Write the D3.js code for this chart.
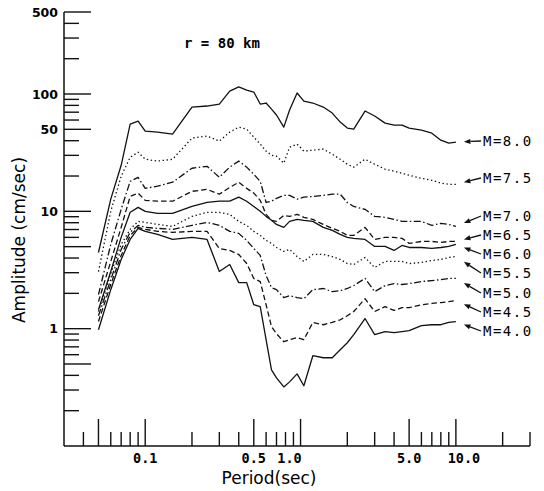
<!DOCTYPE html>
<meta charset="utf-8">
<title>Amplitude spectra, r = 80 km</title>
<style>
body { margin: 0; background: #fff; }
svg { display: block; background: #fff; }
.curve { fill: none; stroke: #111; stroke-width: 1.3; stroke-linejoin: round; }
.frame line { stroke: #111; stroke-width: 1.5; }
.tick line { stroke: #111; stroke-width: 1.4; }
</style>
<svg width="544" height="491"></svg>
<script src="https://cdn.jsdelivr.net/npm/d3@7/dist/d3.min.js"></script>
<script>

// periods (sec) every curve was read at
var periods = [0.05, 0.06, 0.07, 0.08, 0.09, 0.1, 0.12, 0.15, 0.2, 0.25,
               0.3, 0.35, 0.4, 0.45, 0.5, 0.55, 0.6, 0.65, 0.7, 0.78,
               0.85, 0.95, 1.05, 1.2, 1.4, 1.6, 1.8, 2.0, 2.2, 2.6,
               3.0, 3.5, 4.0, 4.5, 5.0, 6.0, 7.0, 8.0, 9.0, 10.0];

// amplitude (cm/sec), one list per magnitude
var ampM80 = [4.46, 12.7, 24.7, 55.4, 58.8, 48.3, 47.3, 45.5, 77.4, 79.0,
              82.1, 106, 115, 108, 104, 82.1, 83.8, 74.4, 66.2, 52.2,
              73.0, 102, 87.1, 83.8, 77.4, 68.8, 57.6, 51.2, 50.2, 71.6,
              64.9, 56.5, 54.3, 54.3, 51.2, 49.2, 46.4, 40.4, 38.1, 38.9];
var ampM75 = [3.07, 10.0, 19.9, 28.9, 31.9, 27.8, 26.8, 27.8, 42.1, 43.8,
              39.7, 47.3, 52.2, 50.2, 42.9, 37.4, 32.6, 30.1, 29.5, 25.7,
              35.2, 37.4, 32.6, 33.2, 33.9, 30.7, 27.8, 25.2, 23.8, 27.8,
              25.2, 22.9, 22.0, 21.1, 20.3, 19.1, 18.4, 17.4, 17.0, 17.0];
var ampM70 = [1.95, 5.22, 10.4, 18.0, 19.5, 15.7, 16.4, 17.7, 23.3, 24.2,
              19.5, 23.8, 26.8, 23.8, 20.7, 18.0, 11.9, 12.2, 12.9, 13.7,
              13.7, 12.7, 13.2, 13.4, 13.7, 14.0, 14.0, 11.9, 11.0, 10.4,
              9.06, 8.89, 8.54, 8.21, 8.21, 8.21, 7.59, 7.90, 7.74, 7.44];
var ampM65 = [1.70, 3.74, 7.30, 13.4, 14.3, 12.4, 12.2, 12.2, 14.8, 15.4,
              14.0, 16.0, 17.7, 15.7, 14.3, 12.4, 9.43, 8.38, 8.21, 9.24,
              9.06, 9.43, 8.89, 8.54, 7.74, 7.16, 6.75, 6.24, 6.24, 7.30,
              5.76, 6.00, 6.00, 5.88, 5.33, 5.54, 5.54, 5.43, 5.54, 5.54];
var ampM60 = [1.45, 3.07, 6.00, 9.81, 10.8, 10.0, 9.61, 9.61, 11.0, 11.9,
              12.2, 12.2, 13.2, 12.2, 11.0, 10.0, 9.06, 8.38, 7.74, 7.30,
              8.21, 8.54, 8.38, 8.21, 7.30, 6.88, 6.36, 6.00, 5.88, 5.76,
              5.02, 5.02, 4.64, 5.12, 4.92, 4.92, 4.83, 4.92, 5.02, 5.22];
var ampM55 = [1.40, 2.95, 5.22, 7.02, 8.21, 8.05, 7.74, 7.44, 9.06, 9.81,
              9.81, 9.43, 8.21, 7.59, 6.75, 6.24, 5.65, 5.33, 4.92, 4.55,
              4.74, 4.12, 3.74, 4.29, 4.29, 4.12, 3.89, 3.59, 3.52, 4.04,
              3.32, 3.74, 3.74, 3.74, 3.59, 3.67, 3.81, 3.89, 4.04, 4.12];
var ampM50 = [1.29, 2.62, 4.74, 6.62, 7.59, 7.30, 7.16, 7.02, 7.59, 8.05,
              7.59, 6.75, 6.49, 5.65, 4.83, 4.21, 2.84, 2.24, 2.15, 1.84,
              1.91, 1.84, 1.80, 2.15, 2.20, 2.07, 2.11, 2.20, 2.33, 2.68,
              2.07, 2.33, 2.42, 2.38, 2.42, 2.52, 2.57, 2.62, 2.68, 2.68];
var ampM45 = [1.15, 2.38, 4.21, 6.24, 7.30, 7.02, 6.75, 6.62, 6.75, 6.75,
              4.83, 4.64, 4.29, 3.59, 2.68, 2.52, 1.60, 1.04, 0.906, 0.774,
              0.805, 0.838, 0.805, 1.13, 1.08, 1.13, 1.19, 1.29, 1.40, 1.80,
              1.40, 1.54, 1.43, 1.51, 1.51, 1.60, 1.64, 1.67, 1.70, 1.74];
var ampM40 = [0.98, 2.15, 3.89, 5.76, 7.16, 6.75, 6.36, 5.76, 6.00, 5.76,
              3.07, 3.52, 2.47, 2.47, 1.60, 1.54, 0.805, 0.446, 0.381, 0.319,
              0.352, 0.412, 0.326, 0.588, 0.565, 0.565, 0.661, 0.759, 0.889, 1.22,
              0.889, 0.943, 0.924, 0.943, 0.961, 1.06, 1.08, 1.08, 1.13, 1.15];

var magnitudes = ["8.0", "7.5", "7.0", "6.5", "6.0", "5.5", "5.0", "4.5", "4.0"];
var series = [ampM80, ampM75, ampM70, ampM65, ampM60, ampM55, ampM50, ampM45, ampM40];

// labelled ticks
var xTickValues = [0.1, 0.5, 1, 5, 10];
var xTickLabels = ["0.1", "0.5", "1.0", "5.0", "10.0"];
var yTickValues = [1, 10, 50, 100, 500];
var yTickLabels = ["1", "10", "50", "100", "500"];

var svg = d3.select("svg");

var x = d3.scaleLog().domain([0.03, 30]).range([64, 530]);
var y = d3.scaleLog().domain([0.1, 500]).range([446, 12]);

//long ticks at 1 and 5 of each decade
function isMajor(v) {
  var e = Math.pow(10, Math.floor(Math.log10(v) + 1e-9));
  var lead = Math.round(v / e);
  return lead == 1 || lead == 5;
}

// frame
var frame = svg.append("g").attr("class", "frame");
frame.append("line")
  .attr("x1", x.range()[0]).attr("x2", x.range()[0])
  .attr("y1", y.range()[0]).attr("y2", y.range()[1]);
frame.append("line")
  .attr("x1", x.range()[0]).attr("x2", x.range()[1])
  .attr("y1", y.range()[0]).attr("y2", y.range()[0]);

// x ticks point up from the bottom line
svg.append("g").attr("class", "tick")
  .selectAll("line")
  .data(x.ticks().filter(function(v) { return v > 0.031; }))
  .enter().append("line")
    .attr("x1", function(d) { return x(d); })
    .attr("x2", function(d) { return x(d); })
    .attr("y1", y.range()[0])
    .attr("y2", function(d) { return y.range()[0] - (isMajor(d) ? 27 : 14); });

// y ticks point right from the left line
svg.append("g").attr("class", "tick")
  .selectAll("line")
  .data(y.ticks().filter(function(v) { return v > 0.101; }))
  .enter().append("line")
    .attr("y1", function(d) { return y(d); })
    .attr("y2", function(d) { return y(d); })
    .attr("x1", x.range()[0])
    .attr("x2", function(d) { return x.range()[0] + (isMajor(d) ? 27 : 15); });

// tick labels
var xLabelShift = {"1.0": -11, "10.0": 8};
svg.append("g")
  .selectAll("text")
  .data(xTickValues)
  .enter().append("text")
    .attr("x", function(d, i) { return x(d) + (xLabelShift[xTickLabels[i]] || 0); })
    .attr("y", 463)
    .attr("text-anchor", "middle")
    .attr("font-family", "DejaVu Sans Mono")
    .attr("font-weight", "bold")
    .attr("font-size", 13.5)
    .text(function(d, i) { return xTickLabels[i]; });

svg.append("g")
  .selectAll("text")
  .data(yTickValues)
  .enter().append("text")
    .attr("x", 58)
    .attr("y", function(d) { return y(d); })
    .attr("dy", "0.36em")
    .attr("text-anchor", "end")
    .attr("font-family", "DejaVu Sans")
    .attr("font-weight", "bold")
    .attr("font-size", 12.5)
    .text(function(d, i) { return yTickLabels[i]; });

// axis titles
svg.append("text")
  .attr("x", 269).attr("y", 484)
  .attr("text-anchor", "middle")
  .attr("font-family", "DejaVu Sans")
  .attr("font-size", 17)
  .text("Period(sec)");

svg.append("text")
  .attr("transform", "translate(25,240) rotate(-90)")
  .attr("text-anchor", "middle")
  .attr("font-family", "DejaVu Sans")
  .attr("font-size", 17)
  .text("Amplitude (cm/sec)");

svg.append("text")
  .attr("x", 184).attr("y", 48)
  .attr("font-family", "DejaVu Sans Mono")
  .attr("font-weight", "bold")
  .attr("font-size", 14)
  .text("r = 80 km");

// curves: solid, dotted, dash-dot, dashed, repeating
var dashes = [null, "1.4,2.6", "7,2.5,1.5,2.5", "5.5,3"];

var line = d3.line()
  .x(function(d) { return x(d[0]); })
  .y(function(d) { return y(d[1]); });

svg.append("g")
  .selectAll("path")
  .data(series)
  .enter().append("path")
    .attr("class", "curve")
    .attr("stroke-dasharray", function(d, i) { return dashes[i % 4]; })
    .attr("d", function(amps) {
      return line(periods.map(function(p, j) { return [p, amps[j]]; }));
    });

// magnitude labels with arrows pointing at the curve ends
var labelY = [141, 178, 216, 235, 254, 273, 293, 312, 331];
var tailX = 481, headX = x(10) + 8;

var lab = svg.append("g");
series.forEach(function(amps, i) {
  var ex = x(periods[periods.length - 1]), ey = y(amps[amps.length - 1]);
  var ty = labelY[i];
  var t = (tailX - headX) / (tailX - ex);
  var hy = ty + (ey - ty) * t;
  var ang = Math.atan2(hy - ty, headX - tailX);
  var len = 6.5, half = 2.6;
  var bx = headX - len * Math.cos(ang), by = hy - len * Math.sin(ang);

  lab.append("line")
    .attr("x1", tailX).attr("y1", ty)
    .attr("x2", bx).attr("y2", by)
    .attr("stroke", "#111")
    .attr("stroke-width", 1.3);
  lab.append("path")
    .attr("d", "M" + headX + "," + hy +
               "L" + (bx - half * Math.sin(ang)) + "," + (by + half * Math.cos(ang)) +
               "L" + (bx + half * Math.sin(ang)) + "," + (by - half * Math.cos(ang)) + "Z")
    .attr("fill", "#111");
  lab.append("text")
    .attr("x", 483).attr("y", ty)
    .attr("dy", "0.36em")
    .attr("font-family", "DejaVu Sans Mono")
    .attr("font-size", 14)
    .attr("letter-spacing", 1.5)
    .text("M=" + magnitudes[i]);
});

</script>
